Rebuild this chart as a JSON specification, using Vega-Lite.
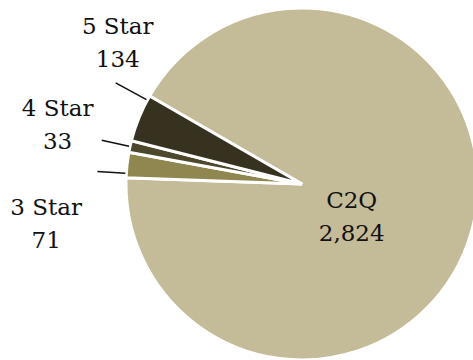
{
  "$schema": "https://vega.github.io/schema/vega-lite/v6.json",
  "width": 352,
  "height": 352,
  "autosize": "none",
  "padding": {"left": 126, "top": 8, "right": 0, "bottom": 0},
  "background": "white",
  "config": {"view": {"stroke": null}},
  "data": {
    "values": [
      {"category": "C2Q", "count": 2824},
      {"category": "3 Star", "count": 71},
      {"category": "4 Star", "count": 33},
      {"category": "5 Star", "count": 134}
    ]
  },
  "transform": [
    {"stack": "count", "groupby": [], "sort": [{"field": "category", "order": "ascending"}], "as": ["s0", "s1"]},
    {"calculate": "(datum.s0 + datum.s1) / 2", "as": "mid"},
    {"calculate": "[datum.category, format(datum.count, ',')]", "as": "label"}
  ],
  "layer": [
    {
      "mark": {"type": "arc", "outerRadius": 176, "stroke": "white", "strokeWidth": 3},
      "encoding": {
        "theta": {"field": "s1", "type": "quantitative", "scale": {"zero": true, "nice": false, "range": [-1.535567, 4.747618]}},
        "theta2": {"field": "s0"},
        "color": {"field": "category", "type": "nominal", "legend": null,
          "scale": {"domain": ["3 Star", "4 Star", "5 Star", "C2Q"], "range": ["#8f874f", "#4d482c", "#36321f", "#c4bc98"]}}
      }
    },
    {
      "transform": [{"filter": "datum.category === '5 Star'"}],
      "mark": {"type": "arc", "outerRadius": 212, "innerRadius": 177, "thetaOffset": 0.1113, "theta2Offset": 0.1113, "fill": null, "stroke": "#111111", "strokeWidth": 1.5},
      "encoding": {"theta": {"field": "mid", "type": "quantitative"}, "theta2": {"field": "mid"}}
    },
    {
      "transform": [{"filter": "datum.category === '4 Star'"}],
      "mark": {"type": "arc", "outerRadius": 205, "innerRadius": 177, "fill": null, "stroke": "#111111", "strokeWidth": 1.5},
      "encoding": {"theta": {"field": "mid", "type": "quantitative"}, "theta2": {"field": "mid"}}
    },
    {
      "transform": [{"filter": "datum.category === '3 Star'"}],
      "mark": {"type": "arc", "outerRadius": 205, "innerRadius": 177, "thetaOffset": -0.04699, "theta2Offset": -0.04699, "fill": null, "stroke": "#111111", "strokeWidth": 1.5},
      "encoding": {"theta": {"field": "mid", "type": "quantitative"}, "theta2": {"field": "mid"}}
    },
    {
      "transform": [{"filter": "datum.category === '5 Star'"}],
      "mark": {"type": "text", "radius": 200, "dx": 1, "dy": -82, "font": "DejaVu Serif", "fontSize": 23, "lineHeight": 33, "align": "center", "baseline": "middle", "color": "#111111"},
      "encoding": {"theta": {"field": "mid", "type": "quantitative"}, "text": {"field": "label"}}
    },
    {
      "transform": [{"filter": "datum.category === '4 Star'"}],
      "mark": {"type": "text", "radius": 200, "dx": -49, "dy": -32, "font": "DejaVu Serif", "fontSize": 23, "lineHeight": 33, "align": "center", "baseline": "middle", "color": "#111111"},
      "encoding": {"theta": {"field": "mid", "type": "quantitative"}, "text": {"field": "label"}}
    },
    {
      "transform": [{"filter": "datum.category === '3 Star'"}],
      "mark": {"type": "text", "radius": 200, "dx": -57, "dy": 46, "font": "DejaVu Serif", "fontSize": 23, "lineHeight": 33, "align": "center", "baseline": "middle", "color": "#111111"},
      "encoding": {"theta": {"field": "mid", "type": "quantitative"}, "text": {"field": "label"}}
    },
    {
      "transform": [{"filter": "datum.category === 'C2Q'"}],
      "mark": {"type": "text", "radius": 60, "dx": -8, "dy": 0, "font": "DejaVu Serif", "fontSize": 23, "lineHeight": 33, "align": "center", "baseline": "middle", "color": "#111111"},
      "encoding": {"theta": {"field": "mid", "type": "quantitative"}, "text": {"field": "label"}}
    }
  ]
}
